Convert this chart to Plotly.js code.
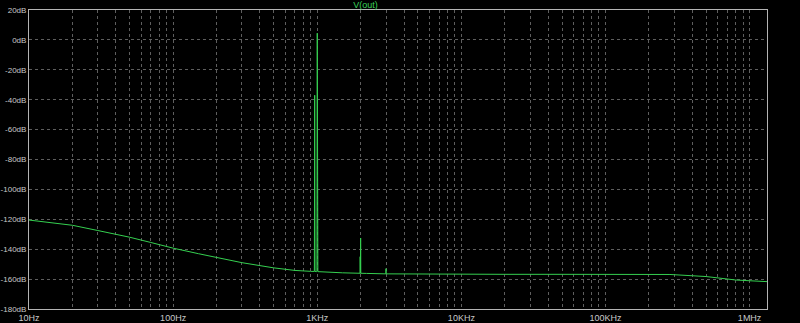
<!DOCTYPE html>
<html>
<head>
<meta charset="utf-8">
<script src="https://cdn.plot.ly/plotly-3.0.1.min.js"></script>
<style>html,body{margin:0;padding:0;background:#000;}#chart{width:800px;height:323px;}</style>
</head>
<body>
<div id="chart"></div>
<script>
// Frequency (Hz) and magnitude (dB) of V(out) FFT
const freqHz = [10, 15, 20, 30, 50, 70, 100, 150, 200, 300, 500, 700, 900, 955, 960, 965, 990, 995, 1000, 1005, 1010,
  1500, 1970, 1980, 1985, 1995, 2000, 2005, 2200, 2950, 2995, 3000, 3005, 3100, 5000, 10000, 20000, 50000, 100000,
  200000, 280000, 500000, 800000, 1000000, 1320000];
const magDb = [-120.5, -122.3, -124, -127.5, -132, -135.5, -139.3, -143, -145.5, -149, -152.5, -154.2, -154.8, -154.9, -37, -154.9, -155, -155, 4.5, -155, -155,
  -155.8, -156.1, -156.1, -145, -156.1, -132.5, -156.1, -156.2, -156.5, -156.5, -153, -156.5, -156.5, -156.7, -156.8, -156.8, -156.8, -156.8,
  -156.9, -156.9, -158.3, -160.6, -161.1, -161.7];

const xTickVals = [10, 100, 1000, 10000, 100000, 1000000];
const xTickText = ["10Hz", "100Hz", "1KHz", "10KHz", "100KHz", "1MHz"];
const yTickVals = [20, 0, -20, -40, -60, -80, -100, -120, -140, -160, -180];
const yTickText = ["20dB", "0dB", "-20dB", "-40dB", "-60dB", "-80dB", "-100dB", "-120dB", "-140dB", "-160dB", "-180dB"];
const traceName = "V(out)";

const minorX = [];
for (const d of xTickVals) for (let k = 2; k <= 9; k++) minorX.push(d * k);

const gridCol = "#5e5e5e";
const fontCol = "#c8c8c8";
const fam = "Liberation Sans, Arial, sans-serif";

Plotly.newPlot("chart", [{
  x: freqHz, y: magDb, type: "scatter", mode: "lines", name: traceName,
  line: {color: "#35d050", width: 1}
}], {
  width: 800, height: 323,
  paper_bgcolor: "#000", plot_bgcolor: "#000",
  margin: {l: 29, r: 33, t: 10, b: 14},
  showlegend: false,
  font: {family: fam, size: 8, color: fontCol},
  title: {text: traceName, font: {size: 9, color: "#3ad35a", family: fam}, x: 0.457, xanchor: "center", y: 0.995, yanchor: "top"},
  xaxis: {
    type: "log", range: [1, Math.log10(1320000)],
    tickvals: xTickVals, ticktext: xTickText,
    showgrid: true, gridcolor: gridCol, griddash: "dot", gridwidth: 1,
    showline: true, mirror: true, linecolor: "#b4b4b4", linewidth: 1,
    ticks: "", ticklen: 0, zeroline: false,
    tickfont: {size: 9, color: fontCol, family: fam},
    minor: {tickvals: minorX, showgrid: true, gridcolor: gridCol, griddash: "dot", gridwidth: 1, ticks: ""}
  },
  yaxis: {
    range: [-180, 20],
    tickvals: yTickVals, ticktext: yTickText,
    showgrid: true, gridcolor: gridCol, griddash: "dot", gridwidth: 1,
    showline: true, mirror: true, linecolor: "#b4b4b4", linewidth: 1,
    ticks: "", zeroline: false, ticklabelstandoff: 0,
    tickfont: {size: 8, color: fontCol, family: fam}
  }
}, {displayModeBar: false, staticPlot: true});
</script>
</body>
</html>
